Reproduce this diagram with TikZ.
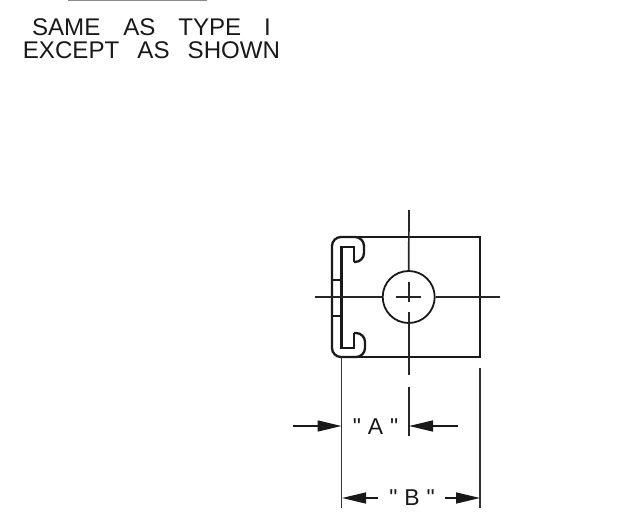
\documentclass[tikz,border=0pt]{standalone}
\usepackage{fontspec}
\setmainfont{Liberation Sans}
\newfontfamily\dimfont{Liberation Sans}
\usetikzlibrary{arrows.meta}
\tikzset{
  part/.style={line width=1.8bp,black!90},
  channel/.style={line width=2.3bp,black!90},
  axis/.style={line width=1.7bp,black!85},
  extline/.style={line width=1.7bp,black!80},
  dimline/.style={line width=1.5bp,black!90,-{Triangle[length=24bp,width=11bp]}},
  note/.style={font=\fontsize{24.2}{23}\selectfont,align=center,inner sep=0pt,text=black!90},
  dimtext/.style={font=\dimfont\fontsize{23}{23}\selectfont,inner sep=0pt,text=black!90}
}
\begin{document}
\begin{tikzpicture}[x=1bp,y=-1bp]
    \useasboundingbox (0,0) rectangle (623,527);
    %%%%% THE NOTE
    \draw[line width=1bp,black!45] (68,0.5) -- (207,0.5);
    \node[note] (NOTE) at (151.5,38.5) {SAME\hspace{.95em}AS\hspace{.95em}TYPE\hspace{.95em}I\\EXCEPT\hspace{.75em}AS\hspace{.75em}SHOWN};
    %%%%% THE PLATE
    \begin{scope}
      \draw[part] (352,237) -- (480,237) -- (480,357) -- (352,357);
      \node[draw,circle,part,minimum size=52bp,inner sep=0pt] (HOLE) at (408.7,297) {};
    \end{scope}
    %%%%% THE CHANNEL
    \draw[channel,rounded corners=9bp] (354,262) -- (364,262) -- (364,237) -- (332,237) -- (332,357) -- (365,357) -- (365,333) -- (354,333);
    \draw[channel] (354,262) -- (354,247) -- (341.5,247) -- (341.5,348) -- (354,348) -- (354,333);
    \draw[part] (332,280) -- (341.5,280) (332,316) -- (341.5,316);
    %%%%% THE CENTRE LINES
    \draw[axis] (409,210) -- (HOLE.north);
    \draw[axis] (315,297) -- (HOLE.west);
    \draw[axis] (HOLE.east) -- (500,297);
    \draw[axis] (396,297) -- (421,297) (409,282) -- (409,302);
    \draw[axis] (409,312) -- (409,375);
    \draw[axis] (409,387) -- (409,436);
    %%%%% THE DIMENSIONS
    \draw[extline] (341.5,357) -- (341.5,508);
    \draw[extline] (480,368) -- (480,508);
    \coordinate (A1) at (293,426);
    \coordinate (A2) at (341.5,426);
    \coordinate (A3) at (458,426);
    \coordinate (A4) at (409,426);
    \coordinate (B1) at (378,498);
    \coordinate (B2) at (342,498);
    \coordinate (B3) at (445,498);
    \coordinate (B4) at (480,498);
    \draw[dimline] (A1) -- (A2);
    \draw[dimline] (A3) -- (A4);
    \draw[dimline] (B1) -- (B2);
    \draw[dimline] (B3) -- (B4);
    \node[dimtext] (DIMA) at (375.5,427) {"\hspace{.3em}A\hspace{.3em}"};
    \node[dimtext] (DIMB) at (412,498) {"\hspace{.3em}B\hspace{.3em}"};
\end{tikzpicture}
\end{document}
